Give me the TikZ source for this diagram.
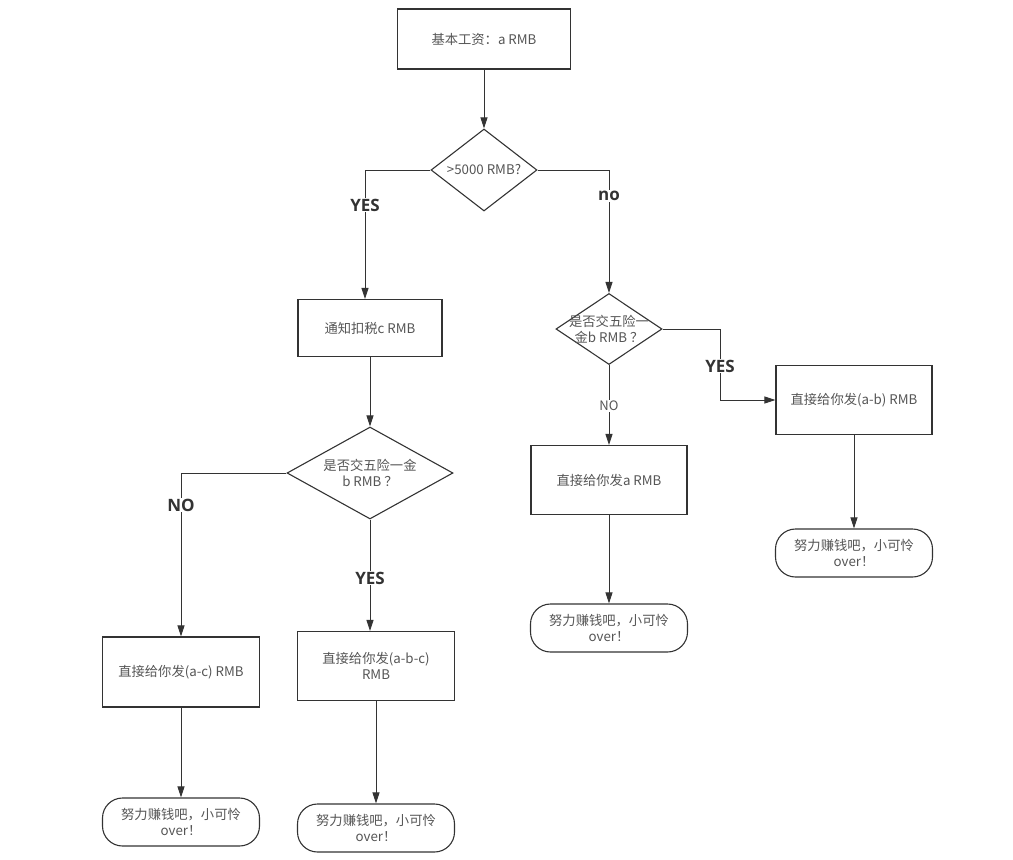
\documentclass[tikz,border=0pt]{standalone}
\usepackage{fontspec}
\setmainfont{Noto Sans CJK SC}
\newfontfamily\labfont{Open Sans}
\usetikzlibrary{shapes.geometric,arrows.meta}
\definecolor{ln}{HTML}{333333}
\definecolor{tx}{HTML}{555555}
\tikzset{
  x=1pt,y=-1pt,
  base/.style={draw=ln,line width=1.1pt,text=tx,font=\fontsize{13.3}{16}\selectfont,align=center},
  proc/.style={base,rectangle,minimum width=#1,inner sep=0},
  term/.style={base,rectangle,rounded corners=20pt,minimum width=157,minimum height=48,inner sep=0},
  dia/.style={draw=ln,line width=1.1pt,diamond,inner sep=0,aspect=1.5},
  dtext/.style={text=tx,font=\fontsize{13.3}{16}\selectfont,align=center,inner sep=0},
  arr/.style={draw=ln,line width=0.9pt,-{Triangle[length=11pt,width=7pt]}},
  blab/.style={fill=white,text=ln,font=\labfont\bfseries\fontsize{17}{20}\selectfont,inner sep=1pt},
  slab/.style={fill=white,text=tx,font=\fontsize{13}{14}\selectfont,inner sep=1pt}
}
\begin{document}
\begin{tikzpicture}
\useasboundingbox (0,0) rectangle (1013,860);
% boxes
\node[proc=173,minimum height=60] (b1) at (484,39) {基本工资：a RMB};
\node[dia,minimum width=106,minimum height=82] (d1) at (484,170) {};
\node[dtext] (d1t) at (d1) {>5000 RMB?};
\node[proc=144,minimum height=57] (b2) at (370,328) {通知扣税c RMB};
\node[dia,minimum width=166,minimum height=92] (d3) at (370,473) {};
\node[dtext] (d3t) at (d3) {是否交五险一金\\b RMB ？};
\node[proc=157,minimum height=70] (b4) at (181,672) {直接给你发(a-c) RMB};
\node[proc=157,minimum height=69] (b5) at (376,666) {直接给你发(a-b-c)\\RMB};
\node[term] (t4) at (181,822) {努力赚钱吧，小可怜\\over！};
\node[term] (t5) at (376,828) {努力赚钱吧，小可怜\\over！};
\node[dia,minimum width=106,minimum height=71] (d2) at (609,329) {};
\node[dtext] (d2t) at (d2) {是否交五险一\\金b RMB ？};
\node[proc=156,minimum height=69] (b6) at (854,400) {直接给你发(a-b) RMB};
\node[proc=156,minimum height=69] (b7) at (609,480) {直接给你发a RMB};
\node[term] (t7) at (609,628) {努力赚钱吧，小可怜\\over！};
\node[term] (t6) at (854,553) {努力赚钱吧，小可怜\\over！};
% connectors
\draw[arr] (b1) -- (d1);
\draw[arr] (d1.west) -| ([xshift=-5]b2.north);
\draw[arr] (d1.east) -| (d2.north);
\draw[arr] (b2) -- (d3);
\draw[arr] (d3.west) -| (b4.north);
\draw[arr] (d3.south) -- (d3.south |- b5.north);
\draw[arr] (b4) -- (t4);
\draw[arr] (b5) -- (t5);
\coordinate (c6) at (720,400);
\draw[arr] (d2.east) -| (c6) -- (b6.west);
\draw[arr] (d2) -- (b7);
\draw[arr] (b6) -- (t6);
\draw[arr] (b7) -- (t7);
% labels
\node[blab] (lyes1) at (365,205) {YES};
\node[blab] (lno1) at (609,196) {no};
\node[blab] (lno2) at (181,505) {NO};
\node[blab] (lyes2) at (370,578) {YES};
\node[blab] (lyes3) at (720,366) {YES};
\node[slab] (lno3) at (609,406) {NO};
\end{tikzpicture}
\end{document}
